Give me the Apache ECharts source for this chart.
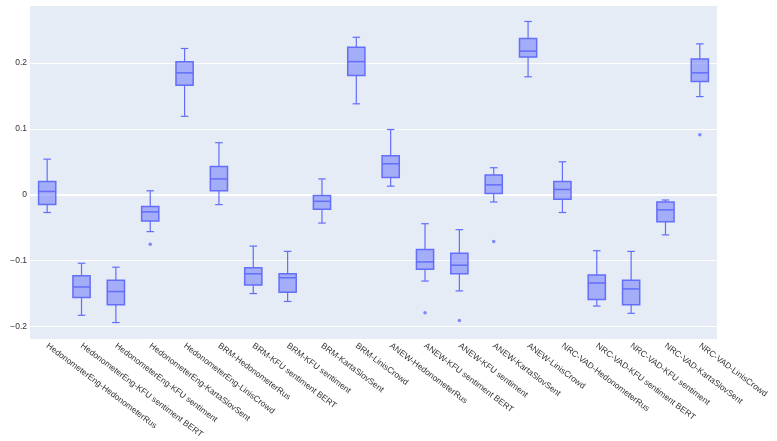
<!DOCTYPE html>
<html>
<head>
<meta charset="utf-8">
<script src="https://cdn.jsdelivr.net/npm/echarts@6/dist/echarts.min.js"></script>
<style>
  html, body { margin: 0; padding: 0; background: #fff; }
  #main { width: 777px; height: 441px; }
</style>
</head>
<body>
<div id="main"></div>
<script>
// categories on the x axis
var categories = [
  'HedonometerEng-HedonometerRus', 'HedonometerEng-KFU sentiment BERT', 'HedonometerEng-KFU sentiment',
  'HedonometerEng-KartaSlovSent', 'HedonometerEng-LinisCrowd', 'BRM-HedonometerRus',
  'BRM-KFU sentiment BERT', 'BRM-KFU sentiment', 'BRM-KartaSlovSent', 'BRM-LinisCrowd',
  'ANEW-HedonometerRus', 'ANEW-KFU sentiment BERT', 'ANEW-KFU sentiment', 'ANEW-KartaSlovSent',
  'ANEW-LinisCrowd', 'NRC-VAD-HedonometerRus', 'NRC-VAD-KFU sentiment BERT', 'NRC-VAD-KFU sentiment',
  'NRC-VAD-KartaSlovSent', 'NRC-VAD-LinisCrowd'
];

// box statistics
var lowerWhisker = [-0.027, -0.183, -0.194, -0.056, 0.119, -0.015, -0.150, -0.162, -0.043, 0.138,
                    0.013, -0.131, -0.146, -0.011, 0.179, -0.027, -0.169, -0.180, -0.061, 0.149];
var q1 = [-0.015, -0.156, -0.167, -0.040, 0.166, 0.006, -0.137, -0.148, -0.022, 0.181,
          0.026, -0.113, -0.120, 0.002, 0.209, -0.007, -0.159, -0.167, -0.041, 0.172];
var median = [0.005, -0.140, -0.147, -0.026, 0.185, 0.024, -0.120, -0.126, -0.010, 0.202,
              0.047, -0.102, -0.107, 0.015, 0.218, 0.008, -0.134, -0.143, -0.023, 0.185];
var q3 = [0.020, -0.123, -0.130, -0.018, 0.202, 0.043, -0.111, -0.120, -0.001, 0.224,
          0.059, -0.083, -0.089, 0.030, 0.237, 0.020, -0.122, -0.130, -0.011, 0.206];
var upperWhisker = [0.054, -0.104, -0.110, 0.006, 0.222, 0.079, -0.078, -0.086, 0.024, 0.239,
                    0.099, -0.044, -0.053, 0.041, 0.263, 0.050, -0.085, -0.086, -0.008, 0.229];
// outliers: [category index, value]
var outliers = [[3, -0.075], [11, -0.179], [12, -0.191], [13, -0.071], [19, 0.091]];

var yTicks = [-0.2, -0.1, 0, 0.1, 0.2];

var lineColor = '#636efa';
var boxData = categories.map(function (c, i) {
  return [i, lowerWhisker[i], q1[i], median[i], q3[i], upperWhisker[i]];
});

function renderBox(params, api) {
  var i = api.value(0);
  var lo = api.coord([i, api.value(1)]);
  var b1 = api.coord([i, api.value(2)]);
  var md = api.coord([i, api.value(3)]);
  var b3 = api.coord([i, api.value(4)]);
  var hi = api.coord([i, api.value(5)]);
  var band = api.size([1, 0])[0];
  var half = band * 0.25, cap = band * 0.11, cx = lo[0];
  var wStyle = { stroke: lineColor, lineWidth: 1.2, fill: null };
  var bStyle = { stroke: lineColor, lineWidth: 1.5, fill: null };
  return {
    type: 'group',
    children: [
      { type: 'line', shape: { x1: cx, y1: hi[1], x2: cx, y2: b3[1] }, style: wStyle },
      { type: 'line', shape: { x1: cx, y1: b1[1], x2: cx, y2: lo[1] }, style: wStyle },
      { type: 'line', shape: { x1: cx - cap, y1: hi[1], x2: cx + cap, y2: hi[1] }, style: wStyle },
      { type: 'line', shape: { x1: cx - cap, y1: lo[1], x2: cx + cap, y2: lo[1] }, style: wStyle },
      { type: 'rect', shape: { x: cx - half, y: b3[1], width: half * 2, height: b1[1] - b3[1] },
        style: { fill: 'rgba(99,110,250,0.5)', stroke: lineColor, lineWidth: 1.5 } },
      { type: 'line', shape: { x1: cx - half, y1: md[1], x2: cx + half, y2: md[1] }, style: bStyle }
    ]
  };
}

var myChart = echarts.init(document.getElementById('main'));
var option = {
  animation: false,
  textStyle: { fontFamily: 'Liberation Sans, Arial, sans-serif' },
  grid: {
    left: 30, right: 60, top: 5, bottom: 99,
    show: true, backgroundColor: '#e5ecf6', borderWidth: 0
  },
  xAxis: {
    type: 'category',
    data: categories,
    axisLine: { show: false },
    axisTick: { show: false },
    splitLine: { show: false },
    axisLabel: {
      interval: 0, rotate: -37, margin: 6,
      fontSize: 8.5, color: '#333'
    }
  },
  yAxis: {
    type: 'value',
    min: -0.219, max: 0.288,
    splitNumber: 5,
    axisLine: { show: false },
    axisTick: { show: false },
    splitLine: { lineStyle: { color: '#ffffff', width: 1 } },
    axisLabel: {
      showMinLabel: false, showMaxLabel: false,
      margin: 3, fontSize: 8.5, color: '#333',
      formatter: function (v) {
        var r = Math.round(v * 10) / 10;
        if (Math.abs(v - r) > 1e-9 || yTicks.indexOf(r) < 0) return '';
        return r === 0 ? '0' : String(r).replace('-', '\u2212');
      }
    }
  },
  series: [
    {
      type: 'custom',
      renderItem: renderBox,
      data: boxData,
      encode: { x: 0, y: [1, 2, 3, 4, 5] },
      z: 3,
      markLine: {
        silent: true, symbol: 'none', label: { show: false },
        lineStyle: { color: '#ffffff', width: 2, type: 'solid' },
        data: [{ yAxis: 0 }],
        z: 1
      }
    },
    {
      type: 'scatter',
      data: outliers,
      symbolSize: 3.5,
      itemStyle: { color: lineColor },
      z: 4
    }
  ]
};
myChart.setOption(option);
window.onresize = myChart.resize;
</script>
</body>
</html>
